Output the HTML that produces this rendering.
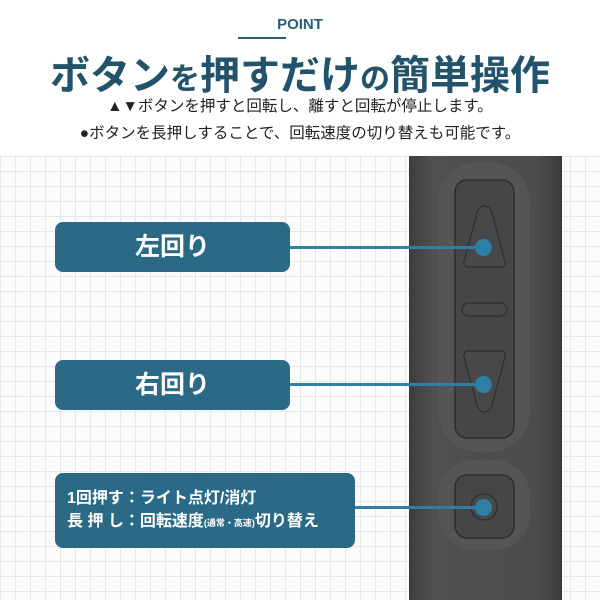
<!DOCTYPE html>
<html><head><meta charset="utf-8"><style>
body{margin:0;width:600px;height:600px;overflow:hidden;background:#fff;font-family:"Liberation Sans","Noto Sans CJK JP",sans-serif;position:relative}
.grid{position:absolute;left:0;top:156px;width:600px;height:444px;background-color:#fbfbfb;
background-image:linear-gradient(#e6e6e6 1px,transparent 1px),linear-gradient(90deg,#e6e6e6 1px,transparent 1px);background-size:15px 15px}
.t{position:absolute;left:0;width:600px;text-align:center;white-space:nowrap}
.box{position:absolute;background:#2b6a87;color:#fff;border-radius:8px;font-weight:bold}
.line{position:absolute;height:3px;background:#2f7fa5}
.dot{position:absolute;width:17px;height:17px;border-radius:50%;background:#2f7fa5}
</style></head><body>
<div class="grid"></div>
<div class="t" style="top:16px;font-size:15px;line-height:18px;font-weight:bold;color:#2b5d75">POINT</div>
<div style="position:absolute;left:238px;top:37px;width:48px;height:2px;background:#2b5d75"></div>
<div class="t" style="top:53px;font-size:40px;line-height:46px;font-weight:bold;color:#22536a">ボタン<span style="font-size:30px">を</span>押すだけ<span style="font-size:30px">の</span>簡単操作</div>
<div class="t" style="top:97px;font-size:15.5px;line-height:20px;color:#222">▲▼ボタンを押すと回転し、離すと回転が停止します。</div>
<div class="t" style="top:124px;font-size:15.5px;line-height:20px;color:#222">●ボタンを長押しすることで、回転速度の切り替えも可能です。</div>
<svg style="position:absolute;left:0;top:0" width="600" height="600">
<defs><linearGradient id="g" x1="0" x2="1"><stop offset="0" stop-color="#3c3c3c"/><stop offset=".15" stop-color="#505050"/><stop offset=".85" stop-color="#4c4c4c"/><stop offset="1" stop-color="#3a3a3a"/></linearGradient></defs>
<rect x="409" y="156" width="153" height="444" fill="url(#g)"/>
<rect x="438" y="162" width="92" height="290" rx="40" fill="#555"/>
<rect x="455" y="180" width="59" height="258" rx="12" fill="#464646" stroke="#2e2e2e" stroke-width="1.5"/>
<path d="M484 206 Q490 206 492 213 L505 262 Q506 267 500 267 L469 267 Q463 267 464 262 L477 213 Q479 206 484 206Z" fill="#484848" stroke="#2e2e2e" stroke-width="1.2"/>
<path d="M484 412 Q490 412 492 405 L505 357 Q506 351 500 351 L469 351 Q463 351 464 357 L477 405 Q479 412 484 412Z" fill="#484848" stroke="#2e2e2e" stroke-width="1.2"/>
<rect x="462" y="303" width="45" height="13" rx="6.5" fill="#484848" stroke="#2e2e2e" stroke-width="1.2"/>
<rect x="438" y="460" width="92" height="90" rx="36" fill="#555"/>
<rect x="455" y="475" width="59" height="63" rx="12" fill="#464646" stroke="#2e2e2e" stroke-width="1.5"/>
<circle cx="484" cy="507" r="13" fill="#474747" stroke="#2e2e2e" stroke-width="1.2"/>
</svg>
<div class="box" style="left:55px;top:222px;width:235px;height:50px;font-size:25px;line-height:50px;text-align:center">左回り</div>
<div class="box" style="left:55px;top:360px;width:235px;height:50px;font-size:25px;line-height:50px;text-align:center">右回り</div>
<div class="box" style="left:55px;top:473px;width:300px;height:75px;font-size:16px;line-height:23px;padding:14px 0 0 12px;box-sizing:border-box;white-space:nowrap">1回押す：ライト点灯/消灯<br>長 押 し：回転速度<span style="font-size:9px">(通常・高速)</span>切り替え</div>
<div class="line" style="left:290px;top:246px;width:194px"></div>
<div class="line" style="left:290px;top:383px;width:194px"></div>
<div class="line" style="left:355px;top:506px;width:129px"></div>
<div class="dot" style="left:475px;top:239px"></div>
<div class="dot" style="left:475px;top:376px"></div>
<div class="dot" style="left:475px;top:499px"></div>
</body></html>
